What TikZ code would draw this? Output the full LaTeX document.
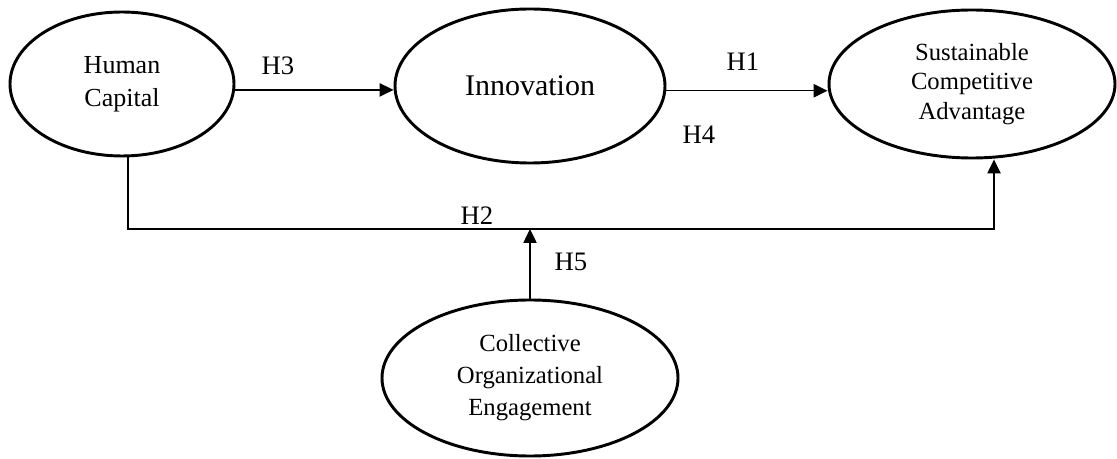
\documentclass[tikz,border=0pt]{standalone}
\usepackage{fontspec}
\setmainfont{Liberation Serif}
\usetikzlibrary{arrows.meta,shapes.geometric}

\tikzset{
  construct/.style={draw,ellipse,line width=2.2pt,inner sep=0pt,align=center,
    font=\fontsize{18.5}{24}\selectfont},
  hyp/.style={font=\fontsize{20}{24}\selectfont,inner sep=0pt},
}

\begin{document}
\begin{tikzpicture}[x=0.75pt,y=-0.75pt,>={Triangle[length=10.5pt,width=10pt]},line width=1pt]

    \useasboundingbox (0,0) rectangle (1117,459);

    \node[construct,minimum width=168pt,minimum height=108pt,
          font=\fontsize{19.5}{25}\selectfont]                  (hc)  at (122,84)  {Human\\Capital};
    \node[construct,minimum width=202.5pt,minimum height=115.5pt,
          font=\fontsize{22.5}{27}\selectfont]                  (inn) at (530,86)  {Innovation};
    \node[construct,minimum width=214.5pt,minimum height=111pt,
          font=\fontsize{18.5}{22}\selectfont]                  (sca) at (972,84)  {Sustainable\\Competitive\\Advantage};
    \node[construct,minimum width=222pt,minimum height=117pt]   (coe) at (530,378) {Collective\\Organizational\\Engagement};

    \coordinate (hcfoot)  at (128,229);
    \coordinate (scafoot) at (994,229);

    \draw[->] (hc.-3) -- (hc.-3 -| inn.west);
    \draw[->] (inn.-2) -- (inn.-2 -| sca.west);
    \draw[->] (hc.south -| hcfoot) -- (hcfoot) -- (scafoot) -- (scafoot |- sca.south);
    \draw[->] (coe.north) -- (coe.north |- hcfoot);

    \node[hyp] (h3) at (278,66)  {H3};
    \node[hyp] (h1) at (743,62)  {H1};
    \node[hyp] (h4) at (699,135) {H4};
    \node[hyp] (h2) at (477,216) {H2};
    \node[hyp] (h5) at (571,262) {H5};

  \end{tikzpicture}
\end{document}
